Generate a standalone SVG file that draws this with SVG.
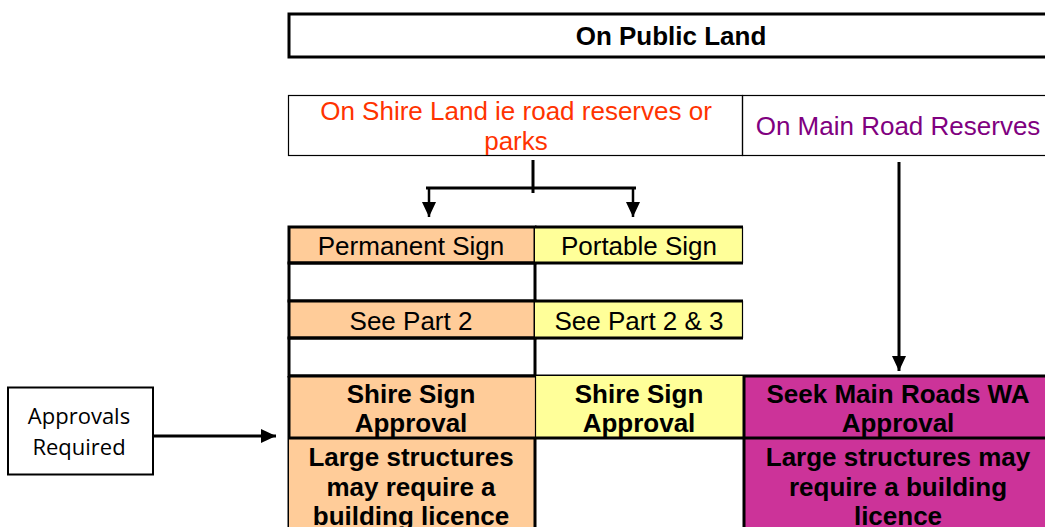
<svg xmlns="http://www.w3.org/2000/svg" width="1045" height="527" viewBox="0 0 1045 527">
<defs>
<marker id="ah" markerWidth="15" markerHeight="14" refX="15" refY="7" orient="auto" markerUnits="userSpaceOnUse">
<path d="M0,0 L15,7 L0,14 z" fill="#000"/>
</marker>
<style>
text{font-family:"Liberation Sans",Arial,sans-serif;font-size:26px;text-anchor:middle;fill:#000}
.b{font-weight:bold}
.cal{font-family:"Open Sans","Liberation Sans",sans-serif;font-size:22px}
.thick{stroke:#000;stroke-width:3;fill:none}
.thin{stroke:#000;stroke-width:1.2;fill:none}
.conn{stroke:#000;stroke-width:3;fill:none}
.or{fill:#FFCC99}
.ye{fill:#FFFF99}
.mg{fill:#CC3399}
</style>
</defs>
<rect width="1045" height="527" fill="#fff"/>

<g id="public-land">
<rect x="289" y="14" width="770" height="43" fill="#fff" class="thick"/>
<text class="b" x="671" y="45">On Public Land</text>
</g>

<g id="shire-land">
<rect x="288.5" y="95.5" width="454" height="60" fill="#fff" class="thin"/>
<text x="516" y="120" style="fill:#FF3300">On Shire Land ie road reserves or</text>
<text x="516" y="150" style="fill:#FF3300">parks</text>
</g>

<g id="main-road">
<rect x="742.5" y="95.5" width="320" height="60" fill="#fff" class="thin"/>
<text x="898" y="135" style="fill:#800080">On Main Road Reserves</text>
</g>

<g id="permanent-sign">
<rect x="289" y="227" width="246" height="36" class="or thick"/>
<text x="411" y="255">Permanent Sign</text>
</g>
<g id="permanent-blank1">
<rect x="289" y="263" width="246" height="38" fill="#fff" class="thick"/>
</g>
<g id="permanent-part">
<rect x="289" y="301" width="246" height="37" class="or thick"/>
<text x="411" y="330">See Part 2</text>
</g>
<g id="permanent-blank2">
<rect x="289" y="338" width="246" height="38" fill="#fff" class="thick"/>
</g>

<g id="portable-sign">
<rect x="535" y="227" width="208" height="36" class="ye"/>
<path d="M535,227 H743 M535,263 H743" class="thick"/>
<path d="M742.5,227 V263" class="thin"/>
<text x="639" y="255">Portable Sign</text>
</g>
<g id="portable-part">
<rect x="535" y="301" width="208" height="37" class="ye"/>
<path d="M535,301 H743 M535,338 H743" class="thick"/>
<path d="M742.5,301 V338" class="thin"/>
<text x="639" y="330">See Part 2 &amp; 3</text>
</g>

<g id="shire-approval-perm">
<rect x="289" y="376" width="246" height="62" class="or"/>
<path d="M288,376 H743 M289,376 V527" class="thick"/>
<text class="b" x="411" y="403">Shire Sign</text>
<text class="b" x="411" y="432">Approval</text>
</g>
<g id="shire-approval-port">
<rect x="535" y="376" width="208" height="62" class="ye"/>
<path d="M535.5,376 V438" class="thin"/>
<text class="b" x="639" y="403">Shire Sign</text>
<text class="b" x="639" y="432">Approval</text>
</g>
<g id="large-perm">
<rect x="289" y="438" width="246" height="89" class="or"/>
<path d="M288,438 H743 M535,438 V527" class="thick"/>
<text class="b" x="411" y="466">Large structures</text>
<text class="b" x="411" y="496">may require a</text>
<text class="b" x="411" y="525">building licence</text>
</g>

<g id="main-roads-approval">
<rect x="743" y="376" width="302" height="151" class="mg"/>
<path d="M743,376 H1045 M743,438 H1045 M744,376 V527" class="thick"/>
<text class="b" x="898" y="403">Seek Main Roads WA</text>
<text class="b" x="898" y="432">Approval</text>
<text class="b" x="898" y="466">Large structures may</text>
<text class="b" x="898" y="496">require a building</text>
<text class="b" x="898" y="525">licence</text>
</g>

<g id="approvals-required">
<rect x="8" y="387.5" width="145" height="87" fill="#fff" stroke="#000" stroke-width="2"/>
<text class="cal" x="79" y="424">Approvals</text>
<text class="cal" x="79" y="455">Required</text>
</g>

<g id="connectors">
<path d="M533,160 V193" class="conn"/>
<path d="M426,188 H636" class="conn"/>
<path d="M429,188 V217" stroke="#000" stroke-width="2.5" fill="none" marker-end="url(#ah)"/>
<path d="M633,188 V217" stroke="#000" stroke-width="2.5" fill="none" marker-end="url(#ah)"/>
<path d="M899,162 V371" stroke="#000" stroke-width="3" fill="none" marker-end="url(#ah)"/>
<path d="M153,436 H276" stroke="#000" stroke-width="3" fill="none" marker-end="url(#ah)"/>
</g>
</svg>
